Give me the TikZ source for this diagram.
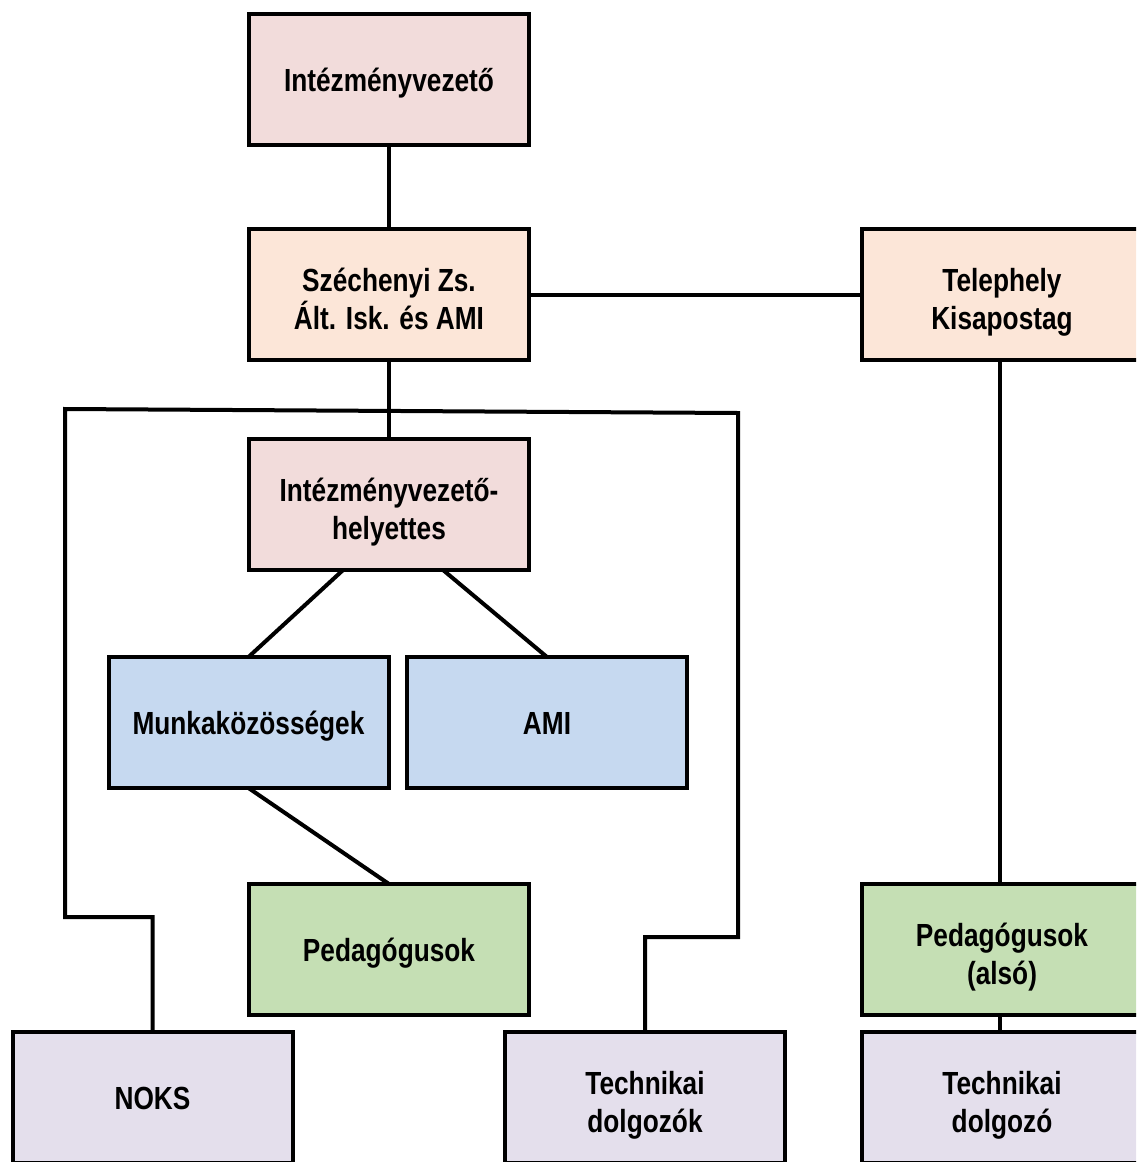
\documentclass[tikz,border=0pt]{standalone}
\usepackage{fontspec}
\setmainfont{Liberation Sans}[FakeStretch=0.82]
\usetikzlibrary{calc}
\definecolor{cf2dcdb}{RGB}{242,220,219}
\definecolor{cfce6d8}{RGB}{252,230,216}
\definecolor{cc6d9f0}{RGB}{198,217,240}
\definecolor{cc5dfb4}{RGB}{197,223,180}
\definecolor{ce4dfec}{RGB}{228,223,236}

\begin{document}
\begin{tikzpicture}[y=1pt, x=1pt, yscale=-1, inner sep=0pt, outer sep=0pt,
  box/.style={draw=black, line width=4pt, minimum width=280pt, minimum height=131pt,
    align=center, font=\fontsize{32}{38}\selectfont\bfseries,
    execute at begin node=\rule{0pt}{30pt},
    execute at end node=\rule[-6pt]{0pt}{6pt}},
  box2/.style={box, execute at begin node=\rule{0pt}{76pt}},
  link/.style={draw=black, line width=4pt}]
\useasboundingbox (0,0) rectangle (1136,1162);
\clip (0,0) rectangle (1136,1162);
% top
\node[box, fill=cf2dcdb] (iv) at (389,79.5) {Intézményvezető};
\node[box2, fill=cfce6d8] (szi) at (389,294.5) {Széchenyi Zs.\\Ált. Isk. és AMI};
\node[box2, fill=cfce6d8] (tel) at (1002,294.5) {Telephely\\Kisapostag};
\node[box2, fill=cf2dcdb] (ivh) at (389,504.5) {Intézményvezető-\\helyettes};
% middle
\node[box, fill=cc6d9f0] (mk) at (248.5,722.5) {Munkaközösségek};
\node[box, fill=cc6d9f0] (ami) at (547,722.5) {AMI};
\node[box, fill=cc5dfb4] (ped) at (389,949.5) {Pedagógusok};
\node[box2, fill=cc5dfb4] (peda) at (1002,949.5) {Pedagógusok\\(alsó)};
% bottom
\node[box, fill=ce4dfec] (noks) at (152.5,1097.5) {NOKS};
\node[box2, fill=ce4dfec] (tech) at (645,1097.5) {Technikai\\dolgozók};
\node[box2, fill=ce4dfec] (techa) at (1002,1097.5) {Technikai\\dolgozó};
\coordinate (barL) at (65,409);
\coordinate (barR) at (738,413);

\draw[link] (iv.south) -- (szi.north);
\draw[link] (szi.east) -- (tel.west);
\draw[link] (szi.south) -- (ivh.north);
\draw[link] (tel.south -| 1000,0) -- (peda.north -| 1000,0);
\draw[link] (peda.south -| 1000,0) -- (techa.north -| 1000,0);
\draw[link] ($(ivh.south west)!0.336!(ivh.south east)$) -- (mk.north);
\draw[link] ($(ivh.south west)!0.693!(ivh.south east)$) -- (ami.north);
\draw[link] (mk.south) -- (ped.north);
\draw[link] (tech.north) -- ++(0,-95) -| (barR) -- (barL)
  |- ($(noks.north)+(0,-115)$) -- (noks.north);
\end{tikzpicture}
\end{document}
